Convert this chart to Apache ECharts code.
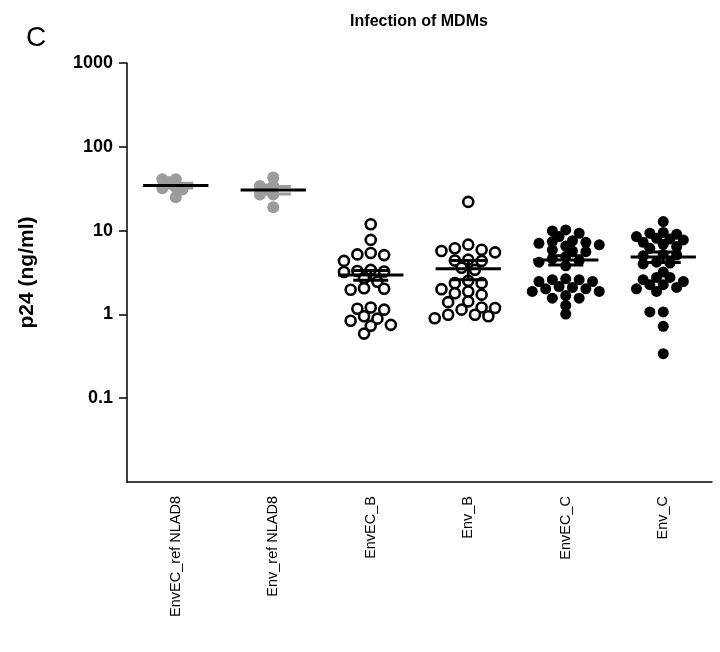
<!DOCTYPE html>
<html>
<head>
<meta charset="utf-8">
<script src="https://cdn.jsdelivr.net/npm/echarts@6/dist/echarts.min.js"></script>
<style>
  html, body { margin: 0; padding: 0; background: #fff; }
  #chart { width: 720px; height: 652px; }
</style>
</head>
<body>
<div id="chart"></div>
<script>
// groups on the x axis
var categories = ["EnvEC_ref NLAD8", "Env_ref NLAD8", "EnvEC_B", "Env_B", "EnvEC_C", "Env_C"];

// p24 values (ng/ml), one list per group
var envECRef = [41, 41, 38, 33, 32, 31, 25];
var envRef = [43, 34, 34, 31, 27, 27, 19];
var envECB = [11.9, 7.75, 5.4, 5.1, 5.2, 4.35, 3.4, 3.3, 3.25, 3.2, 2.7, 2.45, 2.05, 1.97, 2.02,
  1.17, 1.14, 1.21, 0.95, 0.89, 0.84, 0.75, 0.73, 0.59];
var envB = [22, 6.8, 5.9, 5.5, 5.7, 6.15, 4.5, 4.4, 4.35, 3.6, 3.4, 2.36, 2.36, 2.52, 2.0, 1.79,
  1.72, 1.88, 1.43, 1.40, 1.21, 1.19, 1.14, 0.99, 0.9, 0.95, 0.99];
var envECC = [10.2, 9.3, 8.5, 9.9, 6.76, 7.55, 7.4, 7.06, 7.25, 6.55, 5.6, 5.9, 5.7, 4.9, 4.6, 4.4,
  4.2, 3.8, 2.6, 2.47, 2.66, 2.47, 2.6, 1.88, 2.15, 2.02, 2.1, 2.02, 1.88, 1.56, 1.56, 1.68, 1.28, 1.01];
var envC = [12.8, 9.3, 9.05, 9.5, 7.75, 6.87, 8.1, 7.95, 8.5, 7.25, 6.45, 6.15, 5.2, 5.1, 5.0, 4.2,
  4.1, 4.0, 3.2, 2.76, 2.76, 2.6, 2.47, 2.26, 2.26, 2.1, 2.02, 1.88, 1.07, 1.07, 0.72, 0.34];

// mean +/- SEM drawn for each group
var means = [34.5, 30.5, 2.95, 3.5, 4.45, 4.85];
var sems = [2.3, 3.2, 0.4, 0.9, 0.57, 0.7];

var yTicks = [0.1, 1, 10, 100, 1000];

var groups = [envECRef, envRef, envECB, envB, envECC, envC];
var kinds = ["gray", "gray", "open", "open", "filled", "filled"];

var styles = {
  gray: { size: 12, gap: 7, itemStyle: { color: "#9c9c9c", opacity: 1 } },
  open: { size: 10, gap: 9.5, itemStyle: { color: "#fff", borderColor: "#000", borderWidth: 2.6, opacity: 1 } },
  filled: { size: 11, gap: 8, itemStyle: { color: "#000", opacity: 1 } }
};

// beeswarm in approximate pixel units (about 97.5 px per group, 84 px per decade)
var pxPerGroup = 97.5, pxPerDecade = 84, halfLane = 6.7;
function swarm(vals, gi, gap) {
  var sorted = vals.slice().sort(function (a, b) { return b - a; });
  var placed = [];
  return sorted.map(function (v) {
    var py = Math.log10(v) * pxPerDecade;
    for (var k = 0; k < 20; k++) {
      var step = k === 0 ? 0 : (k % 2 ? -1 : 1) * Math.ceil(k / 2);
      var px = step * halfLane;
      var hit = placed.some(function (p) {
        var dx = p.x - px, dy = p.y - py;
        return dx * dx + dy * dy < gap * gap;
      });
      if (!hit) {
        placed.push({ x: px, y: py });
        return [gi + px / pxPerGroup, v];
      }
    }
    return [gi, v];
  });
}

var series = groups.map(function (vals, gi) {
  var st = styles[kinds[gi]];
  return {
    type: "scatter",
    xAxisIndex: 1,
    symbol: "circle",
    symbolSize: st.size,
    itemStyle: st.itemStyle,
    z: 2,
    data: swarm(vals, gi, st.gap)
  };
});

series.push({
  type: "custom",
  xAxisIndex: 1,
  z: 5,
  data: means.map(function (m, i) { return [i, m, sems[i]]; }),
  renderItem: function (params, api) {
    var i = api.value(0);
    var m = api.value(1);
    var s = api.value(2);
    var c = api.coord([i, m]);
    var hi = api.coord([i, m + s]);
    var lo = api.coord([i, m - s]);
    var slot = api.size([1, 0])[0];
    var meanHalf = slot * 0.335;
    var capHalf = slot * 0.18;
    var barColor = kinds[i] === "gray" ? "#9c9c9c" : "#000";
    var barStyle = { stroke: barColor, lineWidth: 3 };
    return {
      type: "group",
      children: [
        { type: "line", shape: { x1: c[0], y1: hi[1], x2: c[0], y2: lo[1] }, style: barStyle },
        { type: "line", shape: { x1: c[0] - capHalf, y1: hi[1], x2: c[0] + capHalf, y2: hi[1] }, style: barStyle },
        { type: "line", shape: { x1: c[0] - capHalf, y1: lo[1], x2: c[0] + capHalf, y2: lo[1] }, style: barStyle },
        { type: "line", shape: { x1: c[0] - meanHalf, y1: c[1], x2: c[0] + meanHalf, y2: c[1] },
          style: { stroke: "#000", lineWidth: 3 } }
      ]
    };
  }
});

var chart = echarts.init(document.getElementById("chart"), null, { renderer: "canvas" });
chart.setOption({
  animation: false,
  backgroundColor: "#fff",
  textStyle: { fontFamily: "Liberation Sans, Arial, sans-serif" },
  title: [
    {
      text: "Infection of MDMs",
      left: 414, top: 9, textAlign: "center",
      textStyle: { fontSize: 16, fontWeight: "bold", color: "#000", fontFamily: "Liberation Sans" }
    },
    {
      text: "C",
      left: 21, top: 19,
      textStyle: { fontSize: 28, fontWeight: "normal", color: "#000", fontFamily: "Liberation Sans" }
    }
  ],
  grid: { left: 127, right: 8, top: 63, bottom: 170, containLabel: false },
  xAxis: [
    {
      type: "category",
      data: categories,
      boundaryGap: true,
      axisLine: { lineStyle: { color: "#000", width: 1.5 } },
      axisTick: { alignWithLabel: true, length: 8, lineStyle: { color: "#000", width: 1.5 } },
      axisLabel: { rotate: 90, margin: 14, fontSize: 14.5, color: "#000", fontFamily: "Liberation Sans" },
      splitLine: { show: false }
    },
    {
      type: "value",
      min: -0.5, max: 5.5,
      show: false
    }
  ],
  yAxis: {
    type: "log",
    logBase: 10,
    min: 0.01, max: 1000,
    name: "p24 (ng/ml)",
    nameLocation: "middle",
    nameGap: 89,
    nameTextStyle: { fontSize: 21, fontWeight: "bold", color: "#000", fontFamily: "Liberation Sans" },
    axisLine: { show: true, onZero: false, lineStyle: { color: "#000", width: 1.5 } },
    axisTick: { show: true, length: 8, customValues: yTicks, lineStyle: { color: "#000", width: 1.5 } },
    axisLabel: {
      customValues: yTicks,
      fontSize: 18, fontWeight: "bold", color: "#000", margin: 14,
      fontFamily: "Liberation Sans",
      formatter: function (v) { return v < 0.05 ? "" : String(v); }
    },
    splitLine: { show: false }
  },
  series: series
});
</script>
</body>
</html>
